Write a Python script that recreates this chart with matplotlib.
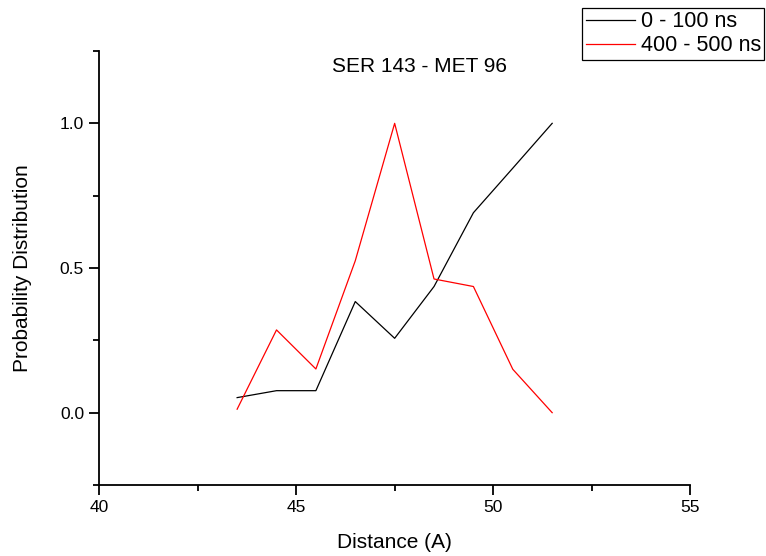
import matplotlib
matplotlib.use("Agg")
import matplotlib.pyplot as plt
from matplotlib.ticker import MultipleLocator, FormatStrFormatter

plt.rcParams['font.family'] = ['Liberation Sans', 'DejaVu Sans']

distance = [43.5, 44.5, 45.5, 46.5, 47.5, 48.5, 49.5, 50.5, 51.5]
prob_0_100 = [0.052, 0.076, 0.076, 0.384, 0.257, 0.436, 0.691, 0.845, 1.0]
prob_400_500 = [0.012, 0.286, 0.151, 0.525, 1.0, 0.462, 0.436, 0.15, 0.0]
series_labels = ["0 - 100 ns", "400 - 500 ns"]

fig = plt.figure(figsize=(7.66, 5.56), dpi=100)
ax = fig.add_axes([99.3 / 766, 1 - 485 / 556, (690 - 99.3) / 766, (485 - 51) / 556])

l1, = ax.plot(distance, prob_0_100, color="black", lw=0.9, label=series_labels[0])
l2, = ax.plot(distance, prob_400_500, color="red", lw=0.9, label=series_labels[1])

ax.set_xlim(40, 55)
ax.set_ylim(-0.25, 1.25)
ax.xaxis.set_major_locator(MultipleLocator(5))
ax.xaxis.set_minor_locator(MultipleLocator(2.5))
ax.yaxis.set_major_locator(MultipleLocator(0.5))
ax.yaxis.set_minor_locator(MultipleLocator(0.25))
ax.yaxis.set_major_formatter(FormatStrFormatter('%.1f'))

for s in ("top", "right"):
    ax.spines[s].set_visible(False)
for s in ("left", "bottom"):
    ax.spines[s].set_linewidth(1.3)

ax.tick_params(which="major", direction="out", length=7, width=1.3, labelsize=12.5, pad=4)
ax.tick_params(which="minor", direction="out", length=4, width=1.3)

ax.set_xlabel("Distance (A)", fontsize=15, labelpad=13)
ax.set_ylabel("Probability Distribution", fontsize=15, labelpad=20)

fig.text(419 / 766, 1 - 67 / 556, "SER 143 - MET 96", fontsize=15, ha="center", va="center")

leg = fig.legend(handles=[l1, l2], loc="upper right", bbox_to_anchor=(764 / 766, 1 - 8 / 556),
                 fontsize=15.5, frameon=True, fancybox=False, framealpha=1,
                 edgecolor="black", handlelength=2.3, handletextpad=0.25,
                 borderpad=0.15, labelspacing=0.15, borderaxespad=0)
leg.get_frame().set_linewidth(0.9)

fig.savefig("out.png", dpi=100)
